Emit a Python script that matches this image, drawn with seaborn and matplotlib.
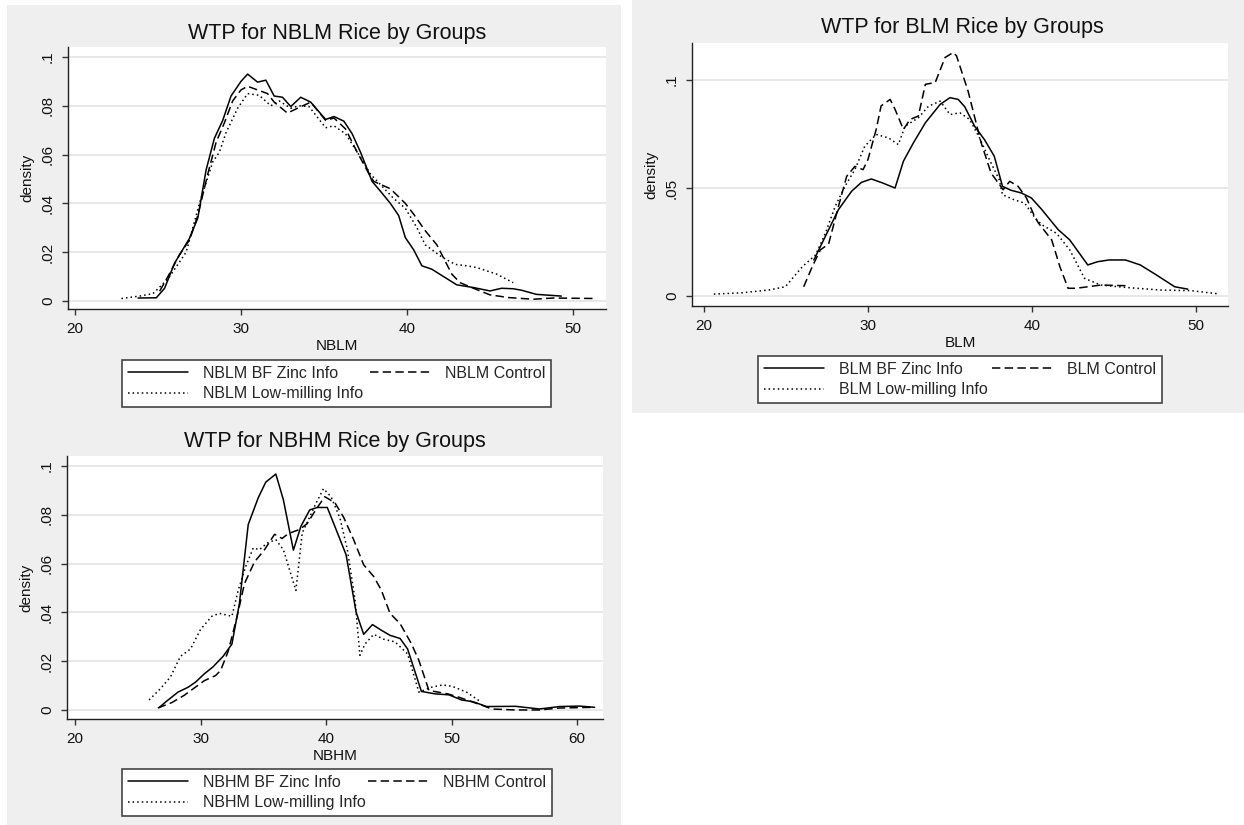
import numpy as np
import pandas as pd
import matplotlib
matplotlib.use("Agg")
import matplotlib.pyplot as plt
import seaborn as sns
from matplotlib.patches import Rectangle

# ---------------- data ----------------
GROUPS = ["BF Zinc Info", "Control", "Low-milling Info"]

NBLM_ZINC_X = [23.8, 24.9, 25.4, 26.0, 26.4, 26.9, 27.4, 27.9, 28.4, 28.9, 29.4, 30.0, 30.4, 31.0, 31.5,
               32.0, 32.5, 33.0, 33.6, 34.2, 35.1, 35.6, 36.2, 36.7, 37.2, 37.9, 38.4, 39.0, 39.5, 39.9,
               40.4, 40.9, 41.5, 43.0, 44.0, 45.0, 45.7, 46.4, 46.9, 47.8, 49.3]
NBLM_ZINC_Y = [0.0012, 0.0013, 0.0052, 0.0155, 0.020, 0.0257, 0.034, 0.0537, 0.0667, 0.074, 0.084, 0.090,
               0.093, 0.0897, 0.0905, 0.084, 0.0835, 0.0797, 0.0835, 0.0815, 0.0744, 0.0756, 0.0737, 0.0685,
               0.061, 0.049, 0.045, 0.040, 0.035, 0.026, 0.021, 0.0144, 0.013, 0.0066, 0.0055, 0.0041,
               0.0052, 0.005, 0.0044, 0.0027, 0.002]
NBLM_CTRL_X = [25.1, 25.6, 26.3, 26.9, 27.4, 28.0, 28.5, 29.0, 29.5, 30.0, 30.4, 31.6, 32.0, 32.8, 33.1,
               34.2, 35.1, 35.6, 36.3, 37.0, 37.8, 38.0, 39.0, 39.9, 40.4, 41.1, 41.8, 42.7, 43.2, 44.0,
               45.0, 46.1, 47.6, 48.8, 51.4]
NBLM_CTRL_Y = [0.004, 0.010, 0.019, 0.025, 0.035, 0.052, 0.065, 0.073, 0.082, 0.0865, 0.088, 0.085,
               0.0815, 0.077, 0.078, 0.0815, 0.074, 0.075, 0.0705, 0.061, 0.051, 0.049, 0.046, 0.040,
               0.0356, 0.0288, 0.023, 0.011, 0.0075, 0.0052, 0.0025, 0.0014, 0.0007, 0.0012, 0.001]
NBLM_LOW_X = [22.8, 23.9, 24.7, 25.6, 26.7, 27.5, 28.3, 28.7, 29.1, 29.8, 30.4, 31.1, 31.8, 32.3, 33.0,
              33.5, 34.1, 35.1, 35.6, 36.3, 37.1, 37.8, 38.5, 39.2, 39.9, 40.6, 41.1, 42.1, 42.9, 43.6,
              44.2, 45.4, 46.4]
NBLM_LOW_Y = [0.001, 0.002, 0.003, 0.009, 0.020, 0.040, 0.057, 0.061, 0.069, 0.079, 0.085, 0.0843, 0.080,
              0.082, 0.079, 0.080, 0.0797, 0.071, 0.0718, 0.0685, 0.060, 0.052, 0.047, 0.042, 0.038,
              0.030, 0.023, 0.018, 0.015, 0.0144, 0.0137, 0.011, 0.0075]

BLM_ZINC_X = [26.7, 27.4, 28.2, 29.0, 29.6, 30.2, 30.9, 31.65, 32.16, 32.77, 33.5, 34.4, 35.0, 35.5, 35.9,
              36.5, 37.1, 37.7, 38.2, 38.7, 39.35, 39.96, 40.6, 41.6, 42.3, 43.4, 44.0, 44.7, 45.7, 46.6,
              47.6, 48.7, 49.5]
BLM_ZINC_Y = [0.0167, 0.0276, 0.040, 0.0485, 0.0526, 0.0542, 0.0523, 0.050, 0.0624, 0.0709, 0.0802, 0.0887,
              0.0918, 0.091, 0.0876, 0.0786, 0.0724, 0.0647, 0.0508, 0.049, 0.0477, 0.0454, 0.0400, 0.0307,
              0.026, 0.0144, 0.0159, 0.0167, 0.0167, 0.0144, 0.0097, 0.0043, 0.0032]
BLM_CTRL_X = [26.08, 26.6, 27.1, 27.6, 28.2, 28.7, 29.2, 29.7, 30.0, 30.5, 30.8, 31.35, 31.65, 32.16, 32.56,
              33.07, 33.5, 34.1, 34.7, 35.2, 35.4, 36.1, 36.9, 37.5, 38.24, 38.64, 39.15, 39.66, 40.16,
              40.4, 41.2, 41.7, 42.2, 42.7, 44.2, 45.7]
BLM_CTRL_Y = [0.0043, 0.0136, 0.0214, 0.0241, 0.0415, 0.0554, 0.060, 0.0585, 0.0632, 0.0771, 0.088, 0.091,
              0.0864, 0.0771, 0.0817, 0.0833, 0.098, 0.0988, 0.1104, 0.1127, 0.1111, 0.0949, 0.0709, 0.057,
              0.0492, 0.0531, 0.0508, 0.0454, 0.0368, 0.0337, 0.026, 0.0136, 0.0036, 0.0036, 0.0051, 0.0048]
BLM_LOW_X = [20.6, 22.3, 23.95, 24.96, 26.0, 26.8, 27.4, 28.0, 28.6, 29.2, 29.8, 30.5, 31.25, 31.85, 32.26,
             33.07, 33.7, 34.4, 35.0, 35.6, 36.2, 36.8, 37.4, 38.0, 38.2, 38.9, 39.55, 40.2, 40.6, 41.5,
             42.3, 43.2, 44.2, 45.7, 47.8, 49.7, 51.4]
BLM_LOW_Y = [0.0009, 0.0015, 0.0028, 0.0043, 0.0136, 0.019, 0.029, 0.0415, 0.0508, 0.0585, 0.0693, 0.0748,
             0.0732, 0.0701, 0.0786, 0.0825, 0.0879, 0.0902, 0.084, 0.0848, 0.0817, 0.0732, 0.0632, 0.0539,
             0.0469, 0.0446, 0.043, 0.036, 0.033, 0.029, 0.0214, 0.0082, 0.0051, 0.004, 0.0028, 0.0025, 0.001]

NBHM_ZINC_X = [26.7, 27.2, 28.2, 29.0, 29.6, 30.3, 31.0, 31.8, 32.5, 33.1, 33.8, 34.6, 35.2, 36.0, 36.6,
               37.4, 38.0, 38.7, 39.3, 40.1, 40.8, 41.6, 42.4, 43.0, 43.7, 44.4, 45.1, 45.9, 46.5, 47.6,
               48.7, 49.8, 50.8, 51.7, 52.8, 55.1, 57.0, 58.6, 60.2, 61.4]
NBHM_ZINC_Y = [0.0010, 0.0032, 0.0073, 0.0093, 0.0114, 0.0148, 0.0177, 0.022, 0.027, 0.0437, 0.076, 0.087,
               0.0934, 0.0967, 0.0862, 0.0655, 0.0753, 0.082, 0.083, 0.083, 0.074, 0.0636, 0.040, 0.031,
               0.035, 0.0327, 0.0306, 0.0293, 0.025, 0.0076, 0.0066, 0.0062, 0.0041, 0.0034, 0.0014,
               0.0015, 0.0004, 0.0014, 0.0016, 0.0011]
NBHM_CTRL_X = [26.6, 27.7, 28.7, 29.5, 30.3, 31.2, 31.6, 32.2, 32.9, 33.5, 34.3, 35.1, 35.9, 36.5, 37.0,
               37.9, 38.5, 39.2, 39.9, 40.7, 41.4, 42.2, 43.0, 43.8, 44.4, 45.1, 45.9, 46.8, 47.4, 48.2,
               49.7, 50.6, 52.5, 53.2, 55.1, 57.0, 58.6, 61.4]
NBHM_CTRL_Y = [0.0008, 0.003, 0.006, 0.009, 0.012, 0.0141, 0.0162, 0.024, 0.038, 0.0518, 0.0607, 0.0657,
               0.072, 0.0703, 0.0723, 0.074, 0.0764, 0.0822, 0.0874, 0.085, 0.079, 0.0698, 0.0595, 0.0547,
               0.0492, 0.0396, 0.0354, 0.0272, 0.0203, 0.008, 0.0066, 0.0052, 0.0018, 0.0004, 0.0,
               0.0, 0.0008, 0.0011]
NBHM_LOW_X = [25.9, 26.8, 27.6, 28.4, 29.2, 30.0, 30.9, 31.5, 32.5, 33.0, 33.6, 34.2, 34.7, 35.3, 36.0,
              36.6, 37.6, 38.1, 38.6, 39.2, 39.8, 40.4, 41.1, 41.7, 42.3, 42.7, 43.1, 43.8, 44.6, 45.5,
              46.5, 47.4, 48.4, 49.3, 50.1, 51.2, 52.2]
NBHM_LOW_Y = [0.0041, 0.0087, 0.0135, 0.022, 0.025, 0.033, 0.0384, 0.0396, 0.0384, 0.049, 0.0588, 0.0664,
              0.0657, 0.0684, 0.0698, 0.0657, 0.049, 0.0725, 0.078, 0.0847, 0.0907, 0.0874, 0.0788,
              0.0657, 0.0457, 0.0224, 0.027, 0.031, 0.029, 0.0279, 0.023, 0.0073, 0.0093, 0.0103, 0.0096,
              0.0073, 0.0038]

TITLES = ["WTP for NBLM Rice by Groups", "WTP for BLM Rice by Groups", "WTP for NBHM Rice by Groups"]
VARS = ["NBLM", "BLM", "NBHM"]
YTICKS_A = [0, 0.02, 0.04, 0.06, 0.08, 0.1]
YLABELS_A = ["0", ".02", ".04", ".06", ".08", ".1"]
YTICKS_B = [0, 0.05, 0.1]
YLABELS_B = ["0", ".05", ".1"]
XTICKS_A = [20, 30, 40, 50]
XTICKS_B = [20, 30, 40, 50, 60]

# ---------------- figure ----------------
sns.set_style("white")
plt.rcParams['font.family'] = ['Liberation Sans', 'DejaVu Sans']

W, H = 1244, 825
fig = plt.figure(figsize=(W / 100, H / 100), dpi=100)
fig.patch.set_facecolor("white")


def frac(l, t, r, b):
    return [l / W, 1 - b / H, (r - l) / W, (b - t) / H]


for (l, t, r, b) in [(7, 5, 621, 825), (632, 0, 1244, 413)]:
    x0, y0, w, h = frac(l, t, r, b)
    fig.patches.append(Rectangle((x0, y0), w, h, transform=fig.transFigure,
                                 facecolor="#EFEFEF", edgecolor="none", zorder=-10))

panels = [
    dict(rect=(68, 47, 606, 309), var=VARS[0], title=TITLES[0], tpos=(337, 33),
         series=[(NBLM_ZINC_X, NBLM_ZINC_Y), (NBLM_CTRL_X, NBLM_CTRL_Y), (NBLM_LOW_X, NBLM_LOW_Y)],
         xlim=(19.58, 51.99), ylim=(-0.0033, 0.1041), xt=XTICKS_A, yt=YTICKS_A, yl=YLABELS_A,
         leg=(122, 360, 551, 410)),
    dict(rect=(692, 43, 1228, 306), var=VARS[1], title=TITLES[1], tpos=(962, 28),
         series=[(BLM_ZINC_X, BLM_ZINC_Y), (BLM_CTRL_X, BLM_CTRL_Y), (BLM_LOW_X, BLM_LOW_Y)],
         xlim=(19.27, 51.95), ylim=(-0.0046, 0.1171), xt=XTICKS_A, yt=YTICKS_B, yl=YLABELS_B,
         leg=(758, 356, 1162, 406)),
    dict(rect=(67, 456, 603, 719), var=VARS[2], title=TITLES[2], tpos=(335, 442),
         series=[(NBHM_ZINC_X, NBHM_ZINC_Y), (NBHM_CTRL_X, NBHM_CTRL_Y), (NBHM_LOW_X, NBHM_LOW_Y)],
         xlim=(19.36, 62.07), ylim=(-0.0037, 0.1041), xt=XTICKS_B, yt=YTICKS_A, yl=YLABELS_A,
         leg=(122, 769, 552, 818)),
]

for p in panels:
    ax = fig.add_axes(frac(*p["rect"]))
    ax.set_facecolor("white")
    names = [f"{p['var']} {g}" for g in GROUPS]
    frames = []
    for name, (xs, ys) in zip(names, p["series"]):
        frames.append(pd.DataFrame({"x": xs, "density": ys, "group": name}))
    df = pd.concat(frames, ignore_index=True)
    sns.lineplot(data=df, x="x", y="density", style="group", style_order=names,
                 dashes={names[0]: "", names[1]: (5.5, 2.8), names[2]: (1.0, 2.0)},
                 color="black", linewidth=1.1, estimator=None, sort=False, ax=ax)
    handles, labels = ax.get_legend_handles_labels()
    hmap = dict(zip(labels, handles))
    if ax.get_legend() is not None:
        ax.get_legend().remove()

    ax.set_xlim(*p["xlim"])
    ax.set_ylim(*p["ylim"])
    ax.set_xticks(p["xt"])
    ax.set_xticklabels([str(v) for v in p["xt"]])
    ax.set_yticks(p["yt"])
    ax.set_yticklabels(p["yl"], rotation=90, va="center", ha="right")
    ax.tick_params(axis="both", direction="out", length=4.3, width=1, color="#333333",
                   labelsize=11, pad=5, left=True, bottom=True, labelcolor="#111111")
    for s in ["top", "right"]:
        ax.spines[s].set_visible(False)
    for s in ["left", "bottom"]:
        ax.spines[s].set_color("#222222")
        ax.spines[s].set_linewidth(1.0)
    ax.grid(axis="y", color="#E6E6E6", linewidth=1.3)
    ax.grid(axis="x", visible=False)
    ax.set_axisbelow(True)
    ax.set_xlabel(p["var"], fontsize=11, labelpad=2, color="#111111")
    ax.set_ylabel("density", fontsize=11, labelpad=5, color="#111111")

    fig.text(p["tpos"][0] / W, 1 - p["tpos"][1] / H, p["title"], ha="center", va="center",
             fontsize=15.5, color="#111111")

    l, t, r, b = p["leg"]
    order = [names[0], names[2], names[1]]
    leg = fig.legend([hmap[n] for n in order], order, ncol=2, loc="upper left",
                     bbox_to_anchor=(l / W, 1 - b / H, (r - l) / W, (b - t) / H),
                     mode="expand", frameon=True, fancybox=False, edgecolor="#444444",
                     facecolor="white", framealpha=1, fontsize=11.5, handlelength=3.8,
                     handletextpad=0.9, labelspacing=0.35, borderpad=0.35, borderaxespad=0,
                     columnspacing=2.0)
    leg.get_frame().set_linewidth(1.2)

fig.savefig("out.png", dpi=100, facecolor="white")
